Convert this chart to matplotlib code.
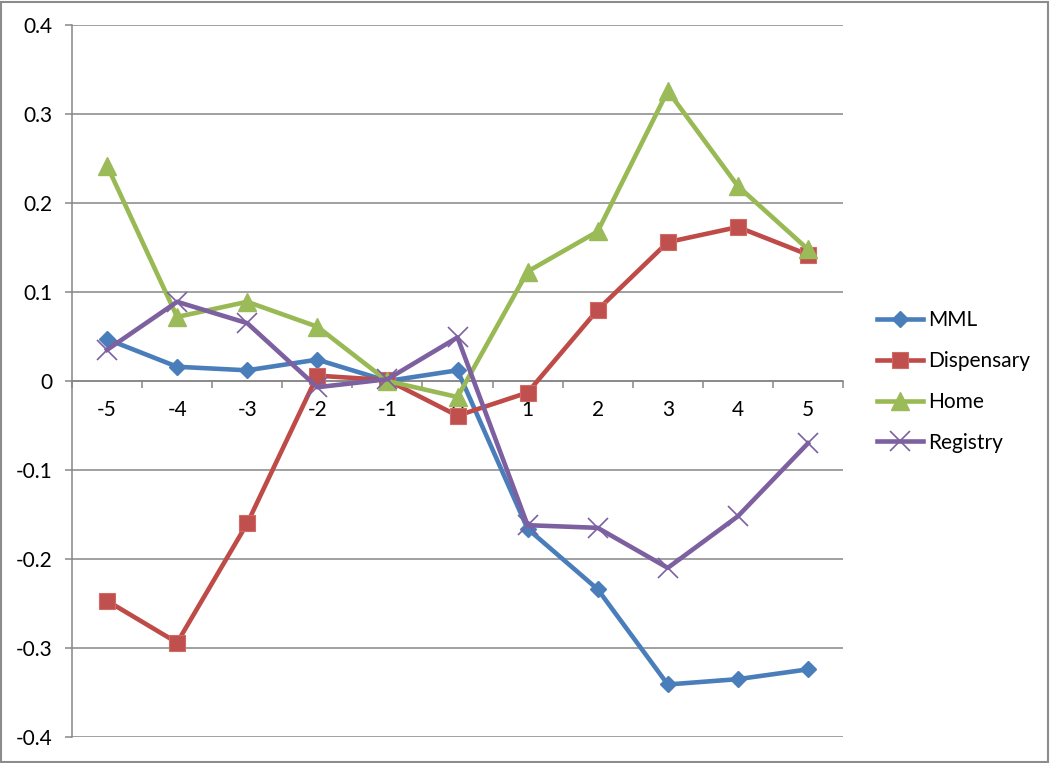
import matplotlib
matplotlib.use("Agg")
import matplotlib.pyplot as plt
from matplotlib.patches import Rectangle

categories = [-5, -4, -3, -2, -1, 0, 1, 2, 3, 4, 5]
mml = [0.047, 0.016, 0.012, 0.024, 0.0, 0.012, -0.166, -0.234, -0.341, -0.335, -0.324]
dispensary = [-0.247, -0.294, -0.160, 0.006, 0.001, -0.039, -0.013, 0.080, 0.156, 0.173, 0.142]
home = [0.242, 0.072, 0.089, 0.061, 0.0, -0.018, 0.123, 0.168, 0.326, 0.219, 0.148]
registry = [0.035, 0.089, 0.065, -0.007, 0.002, 0.049, -0.162, -0.165, -0.210, -0.152, -0.070]
y_ticks = [-0.4, -0.3, -0.2, -0.1, 0, 0.1, 0.2, 0.3, 0.4]
y_labels = ["-0.4", "-0.3", "-0.2", "-0.1", "0", "0.1", "0.2", "0.3", "0.4"]

plt.rcParams['font.family'] = ['Lato', 'DejaVu Sans']

W, H = 1050, 763
fig = plt.figure(figsize=(W / 100, H / 100), dpi=100)
ax = fig.add_axes([72 / W, 1 - 737 / H, (843 - 72) / W, (737 - 25) / H])

grid_c = '#868686'
n = len(categories)
xs = list(range(n))
fs = 15

ax.set_xlim(-0.5, n - 0.5)
ax.set_ylim(-0.4, 0.4)
ax.set_yticks(y_ticks)
ax.set_yticklabels(y_labels)
for y in y_ticks:
    ax.axhline(y, color=grid_c, lw=1.1, zorder=1)

ax.spines['top'].set_visible(False)
ax.spines['right'].set_visible(False)
ax.spines['left'].set_color(grid_c)
ax.spines['left'].set_linewidth(1.1)
ax.spines['bottom'].set_position(('data', 0))
ax.spines['bottom'].set_color(grid_c)
ax.spines['bottom'].set_linewidth(1.1)

ax.set_xticks(xs)
ax.set_xticklabels([str(c) for c in categories])
ax.set_xticks([i + 0.5 for i in range(-1, n)], minor=True)
ax.tick_params(axis='x', which='major', length=0, pad=14, labelsize=fs, colors='black')
ax.tick_params(axis='x', which='minor', length=5, width=1.1, color=grid_c, direction='out')
ax.tick_params(axis='y', which='major', length=5, width=1.1, color=grid_c, pad=9, labelsize=fs, labelcolor='black', direction='out')

lw = 3.3
ax.plot(xs, mml, color='#4A7EBB', lw=lw, marker='D', markersize=8.5, markerfacecolor='#4A7EBB', markeredgecolor='#4A7EBB', label='MML', zorder=3)
ax.plot(xs, dispensary, color='#BE4B48', lw=lw, marker='s', markersize=12, markerfacecolor='#C0504D', markeredgecolor='#D06A67', markeredgewidth=0.8, label='Dispensary', zorder=3)
ax.plot(xs, home, color='#98B954', lw=lw, marker='^', markersize=12.5, markerfacecolor='#9BBB59', markeredgecolor='#9BBB59', label='Home', zorder=3)
ax.plot(xs, registry, color='#7D60A0', lw=lw, marker='x', markersize=14, markeredgewidth=1.2, markeredgecolor='#7D60A0', label='Registry', zorder=3)

leg = fig.legend(loc='center left', bbox_to_anchor=(877 / W, 1 - 381.5 / H), frameon=False,
                 fontsize=fs, handlelength=2.2, handletextpad=0.25, labelspacing=1.0,
                 borderpad=0, borderaxespad=0)

fig.patches.append(Rectangle((1 / W, 1 / H), (W - 3) / W, (H - 3) / H, transform=fig.transFigure,
                             fill=False, edgecolor='#8c8c8c', lw=1.5))

fig.savefig('out.png', dpi=100)
